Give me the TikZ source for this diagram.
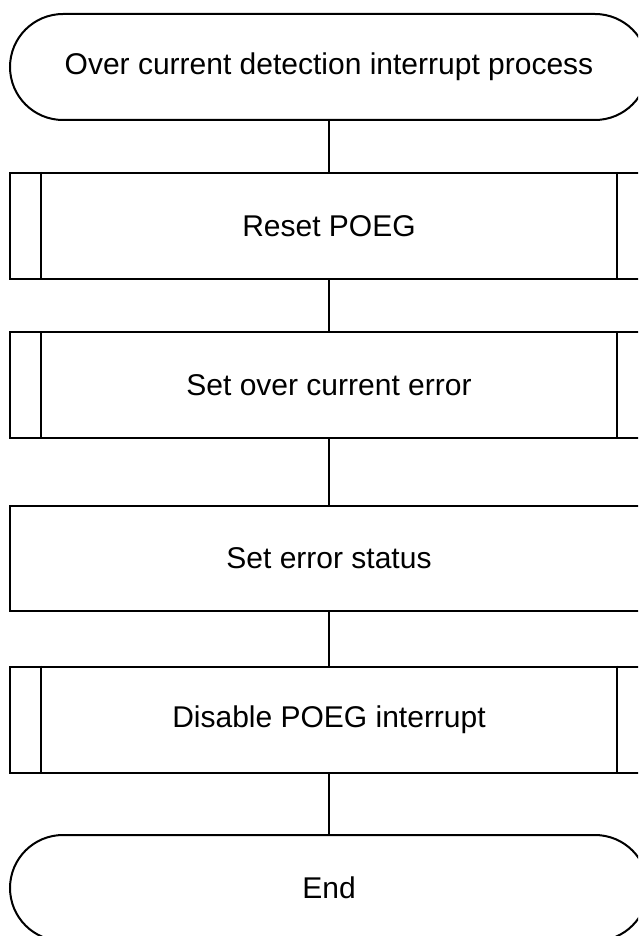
\documentclass[tikz,border=0pt]{standalone}
\usepackage{fontspec}
\setmainfont{Liberation Sans}
\begin{document}
\begin{tikzpicture}[x=1pt,y=-1pt,
  line width=2pt,
  every node/.style={font=\fontsize{30pt}{36pt}\selectfont},
  terminal/.style={draw, rectangle, rounded corners=53pt, minimum width=638pt, minimum height=106pt, inner sep=0pt},
  procbox/.style={draw, rectangle, minimum width=638pt, minimum height=106pt, inner sep=0pt},
  subline/.style={line width=2pt},
  conn/.style={line width=2pt}
]
\useasboundingbox (0,0) rectangle (638,936);
\clip (0,0) rectangle (638,936);
\node[terminal] (start) at (329,67) {Over current detection interrupt process};
\node[procbox] (b1) at (329,226) {Reset POEG};
\node[procbox] (b2) at (329,385) {Set over current error};
\node[procbox, minimum height=105pt] (b3) at (329,558.5) {Set error status};
\node[procbox] (b4) at (329,719.5) {Disable POEG interrupt};
\node[terminal] (end) at (329,888) {End};
\foreach \b in {b1,b2,b4}{
  \draw[subline] ([xshift=32pt]\b.north west) -- ([xshift=32pt]\b.south west);
  \draw[subline] ([xshift=-32pt]\b.north east) -- ([xshift=-32pt]\b.south east);
}
\draw[conn] (start.south) -- (b1.north);
\draw[conn] (b1.south) -- (b2.north);
\draw[conn] (b2.south) -- (b3.north);
\draw[conn] (b3.south) -- (b4.north);
\draw[conn] (b4.south) -- (end.north);
\end{tikzpicture}
\end{document}
